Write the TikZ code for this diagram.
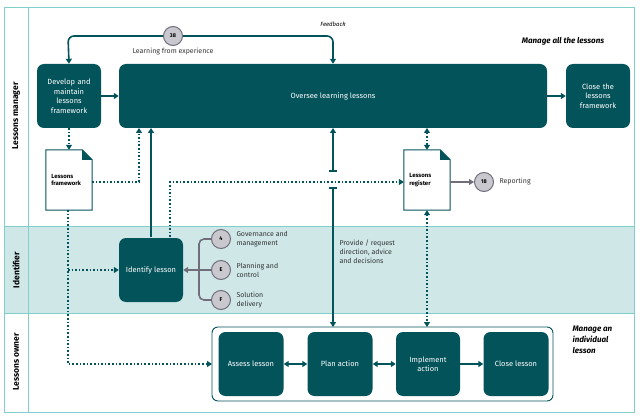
\documentclass[tikz,border=0pt]{standalone}
\usepackage{fontspec}
\setmainfont{Fira Sans}
\usetikzlibrary{arrows.meta}
\definecolor{dk}{HTML}{03535A}
\definecolor{lt}{HTML}{CFE7E7}
\definecolor{ln}{HTML}{7FCFCC}
\definecolor{gc}{HTML}{C9C8CE}
\definecolor{gl}{HTML}{716E7C}
\begin{document}
\begin{tikzpicture}[x=1pt,y=-1pt,
  box/.style={draw=none,fill=dk,rounded corners=7pt,text=white,align=center,font=\fontsize{7.5}{9.5}\selectfont,inner sep=2pt},
  doc/.style={draw=none,minimum width=46pt,minimum height=60pt,inner sep=0pt},
  circ/.style={circle,draw=gl,line width=1pt,fill=gc,minimum size=19pt,inner sep=0pt,font=\bfseries\fontsize{5.5}{6}\selectfont},
  lbl/.style={font=\fontsize{7}{9}\selectfont,align=left,text=black!80},
  lane/.style={rotate=90,font=\bfseries\fontsize{8.5}{10}\selectfont},
  sol/.style={draw=dk,line width=1.6pt,-{Triangle[length=5pt,width=6pt]}},
  dot/.style={draw=dk,line width=1.6pt,dotted,-{Triangle[length=5pt,width=6pt]}},
  dotb/.style={draw=dk,line width=1.6pt,dotted,{Triangle[length=5pt,width=6pt]}-{Triangle[length=5pt,width=6pt]}},
  gar/.style={draw=gl,line width=1.6pt,-{Triangle[length=5pt,width=6pt]}}]
\useasboundingbox (0,0) rectangle (640,417);
% lanes
\fill[lt] (4,226) rectangle (634,313);
\draw[ln,line width=0.8pt] (4,7) rectangle (634,412);
\draw[ln,line width=0.8pt] (28,7) -- (28,412);
\draw[ln,line width=0.8pt] (4,226) -- (634,226) (4,313) -- (634,313);
\node[lane] (l1) at (16,116) {Lessons manager};
\node[lane] (l2) at (16,270) {Identifier};
\node[lane] (l3) at (16,362) {Lessons owner};
% boxes
\node[box,minimum width=64pt,minimum height=64pt,text width=58pt] (dev) at (69,96) {Develop and maintain lessons framework};
\node[box,minimum width=428pt,minimum height=64pt] (ov) at (333,96) {Oversee learning lessons};
\node[box,minimum width=64pt,minimum height=64pt,text width=58pt] (cl) at (598,96) {Close the lessons framework};
\node[box,minimum width=64pt,minimum height=64pt] (id) at (151,270) {Identify lesson};
\draw[dk,line width=0.9pt,rounded corners=6pt] (212,327) rectangle (553,401);
\node[box,minimum width=65pt,minimum height=64pt] (as) at (251,364) {Assess lesson};
\node[box,minimum width=65pt,minimum height=64pt] (pa) at (340,364) {Plan action};
\node[box,minimum width=64pt,minimum height=64pt,text width=58pt] (im) at (428,364) {Implement action};
\node[box,minimum width=65pt,minimum height=64pt] (cls) at (516,364) {Close lesson};
% documents
\node[doc] (fw) at (69,180) {};
\node[doc] (rg) at (427,180) {};
\foreach \d in {fw,rg}{
  \draw[dk,line width=1pt,fill=white] (\d.north west) -- ([xshift=-10pt]\d.north east) -- ([yshift=-10pt]\d.north east) -- (\d.south east) -- (\d.south west) -- cycle;
  \fill[dk] ([xshift=-10pt]\d.north east) -- ([yshift=-10pt]\d.north east) -- ([xshift=-10pt,yshift=-10pt]\d.north east) -- cycle;
}
\node[font=\bfseries\fontsize{6}{7.5}\selectfont,align=left,anchor=west] (fwt) at ([xshift=2pt]fw.west) {Lessons\\framework};
\node[font=\bfseries\fontsize{6}{7.5}\selectfont,align=left,anchor=west] (rgt) at ([xshift=2pt]rg.west) {Lessons\\register};
% top loop
\node[circ] (c38) at (173,36) {38};
\node[lbl] (lfe) at (173,52) {Learning from experience};
\node[font=\itshape\fontsize{6}{7}\selectfont] (fb) at (333,24) {Feedback};
\draw[sol,rounded corners=6pt] (c38.east) -- (333,36) -- (ov.north);
\draw[sol,rounded corners=6pt] (c38.west) -- (68,36) -- (dev.north);
\draw[sol] (dev) -- (ov);
\draw[sol] (ov) -- (cl);
\node[font=\bfseries\itshape\fontsize{8}{10}\selectfont] (mal) at (563,41) {Manage all the lessons};
\node[font=\bfseries\itshape\fontsize{8}{11}\selectfont,align=left,anchor=north west] (mil) at (569,322) {Manage an\\individual\\lesson};
% connectors
\draw[dot] (dev.south) -- (fw.north);
\draw[dot] (fw.east |- 0,182) -- (139,182) -- (139,128);
\draw[sol] (151,237) -- (151,128);
\draw[dot] (170,237) -- (170,182) -- (rg.west |- 0,182);
\draw[dotb] (427,128) -- (rg.north);
\draw[dotb] (rg.south) -- (427,327);
\node[circ] (c18) at (484,182) {18};
\node[lbl,anchor=west] (rep) at (496,182) {Reporting};
\draw[gar] (rg.east |- 0,182) -- (c18);
% Oversee <-> plan with bars
\draw[sol,{Bar[width=8pt]}-{Triangle[length=5pt,width=6pt]}] (333,172) -- (333,128);
\draw[sol,{Bar[width=8pt]}-{Triangle[length=5pt,width=6pt]}] (333,187) -- (333,327);
\node[lbl,anchor=north west] (prov) at (336,236) {Provide / request\\direction, advice\\and decisions};
% framework to identify and assess
\draw[dot] (68,210) -- (68,364) -- (212,364);
\draw[dot] (68,270) -- (id.west);
% circles 4 E F
\node[circ] (c4) at (221,239) {4};
\node[circ] (cE) at (221,270) {E};
\node[circ] (cF) at (221,300) {F};
\node[lbl,anchor=west] (t4) at (233,239) {Governance and\\management};
\node[lbl,anchor=west] (tE) at (233,270) {Planning and\\control};
\node[lbl,anchor=west] (tF) at (233,300) {Solution\\delivery};
\draw[gl,line width=1.6pt,rounded corners=5pt] (c4.west) -- (199,239) -- (199,300) -- (cF.west);
\draw[gar] (cE.west) -- (id.east);
% owner row
\draw[draw=dk,line width=1.6pt,{Triangle[length=5pt,width=6pt]}-{Triangle[length=5pt,width=6pt]}] (as) -- (pa);
\draw[draw=dk,line width=1.6pt,{Triangle[length=5pt,width=6pt]}-{Triangle[length=5pt,width=6pt]}] (pa) -- (im);
\draw[sol] (im) -- (cls);
\end{tikzpicture}
\end{document}
